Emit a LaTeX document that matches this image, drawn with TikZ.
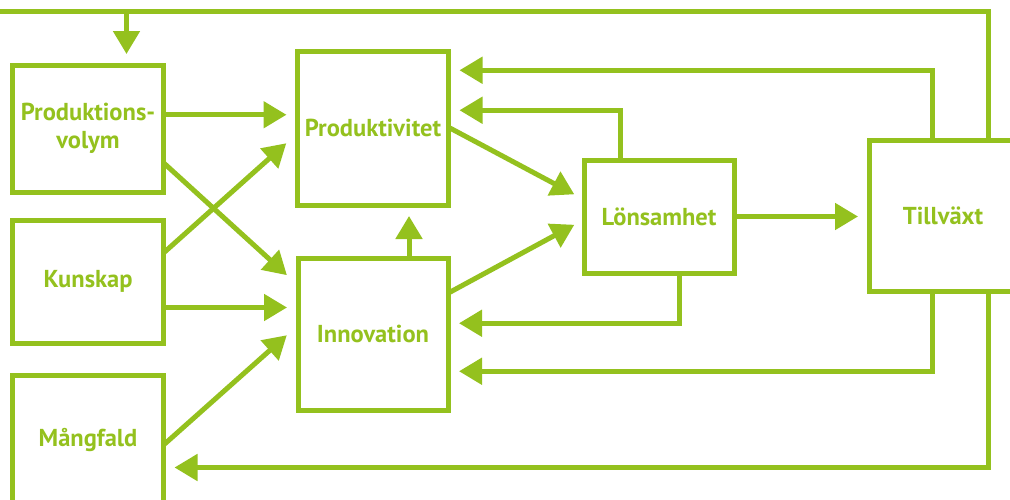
\documentclass[tikz,border=0pt]{standalone}
\usepackage{fontspec}
\setmainfont{PT Sans}
\usetikzlibrary{arrows.meta}
\definecolor{gron}{RGB}{148,193,30}
\tikzset{
  box/.style={draw=gron, line width=5pt, outer sep=0pt, inner sep=0pt,
    text=gron, font=\fontsize{24.5}{28}\selectfont\bfseries, align=center},
  flow/.style={draw=gron, line width=5pt,
    -{Triangle[length=23pt,width=26pt]}, shorten >=11pt},
}
\begin{document}
\begin{tikzpicture}[x=1pt,y=-1pt]
    \useasboundingbox (0,0) rectangle (1010,499);
    \clip (0,0) rectangle (1010,499);
    % Rutor
    \node[box, minimum width=151pt, minimum height=127.5pt] (pv) at (88,128.75) {Produktions-\\volym};
    \node[box, minimum width=151pt, minimum height=123pt] (kun) at (88,281.5) {Kunskap};
    \node[box, minimum width=151pt, minimum height=130pt] (mang) at (88,440) {Mångfald};
    \node[box, minimum width=151pt, minimum height=153.5pt] (prod) at (373,128.25) {Produktivitet};
    \node[box, minimum width=150pt, minimum height=152.5pt] (inno) at (373,334.25) {Innovation};
    \node[box, minimum width=150pt, minimum height=113pt] (lons) at (659,216.5) {Lönsamhet};
    \node[box, minimum width=148pt, minimum height=151pt] (till) at (943,215.5) {Tillväxt};
    \coordinate (top) at (0,11.5);
    % Pilar in
    \draw[flow] ([yshift=14pt]pv.east) -- ([yshift=14pt]pv.east -| prod.west);
    \draw[flow, shorten >=15pt] ([yshift=-34pt]pv.east) -- ([yshift=49pt]inno.west);
    \draw[flow, shorten >=15pt] ([yshift=28.5pt]kun.east) -- ([yshift=-5pt]prod.west);
    \draw[flow] ([yshift=-26pt]kun.east) -- ([yshift=-26pt]kun.east -| inno.west);
    \draw[flow, shorten >=15pt] ([yshift=-5pt]mang.east) -- ([yshift=9pt]inno.west);
    \draw[flow] ([xshift=36pt]inno.north) -- ([xshift=36pt]prod.south);
    % Mitten
    \draw[flow] ([yshift=1pt]prod.east) -- ([yshift=17pt]lons.west);
    \draw[flow] ([yshift=41pt]inno.east) -- ([yshift=-3pt]lons.west);
    \draw[flow] (lons.east) -- (lons.east -| till.west);
    % Återkoppling
    \draw[flow] ([xshift=-39pt]lons.north) |- ([yshift=18pt]prod.east);
    \draw[flow] ([xshift=20pt]lons.south) |- ([yshift=11pt]inno.east);
    \draw[flow] ([xshift=-11pt]till.north) |- ([yshift=58pt]prod.east);
    \draw[flow] ([xshift=-11pt]till.south) |- ([yshift=-37pt]inno.east);
    \draw[flow] ([xshift=45pt]till.south) |- ([yshift=-27.5pt]mang.east);
    \draw[flow] ([xshift=45pt]till.north) |- (top) -| ([xshift=38.5pt]pv.north);
\end{tikzpicture}
\end{document}
